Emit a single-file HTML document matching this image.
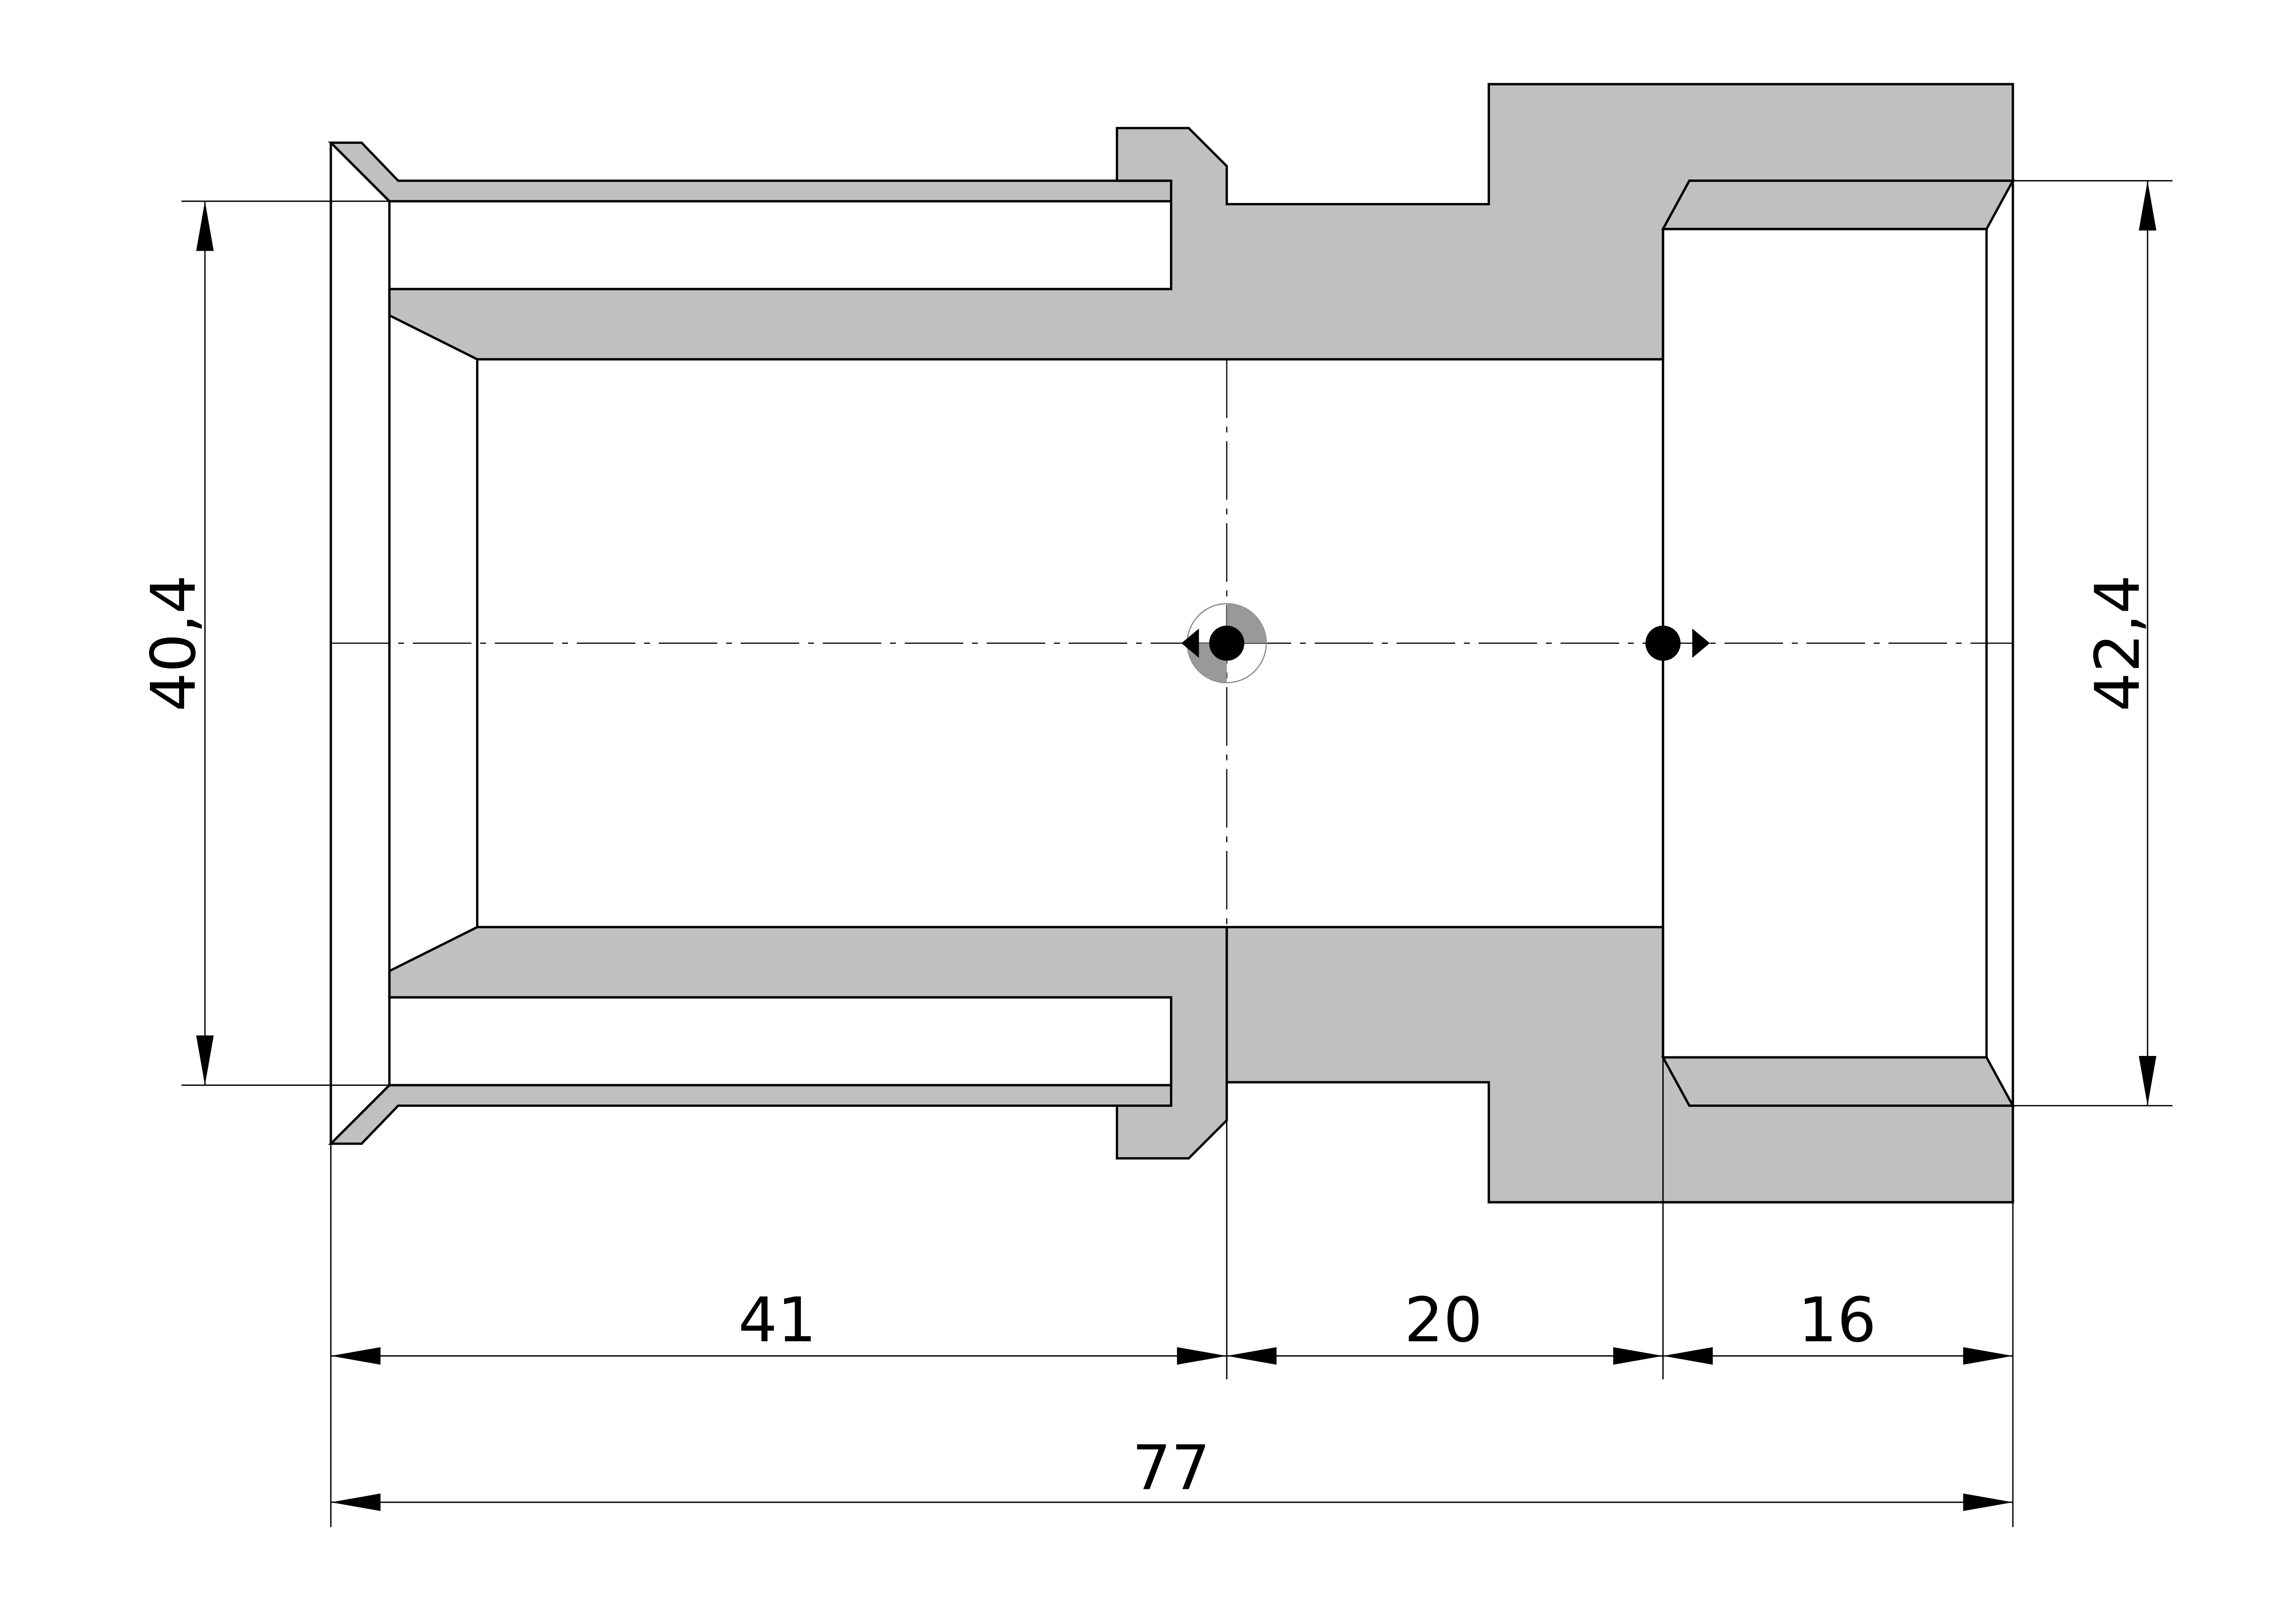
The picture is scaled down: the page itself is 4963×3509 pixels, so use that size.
<!DOCTYPE html>
<html><head><meta charset="utf-8"><style>
html,body{margin:0;padding:0;background:#fff}
svg{display:block}
text{font-family:"DejaVu Sans","Liberation Sans",sans-serif;fill:#000}
</style></head><body>
<svg width="4963" height="3509" viewBox="-1 -0.5 1568.4 1109" preserveAspectRatio="none" xmlns="http://www.w3.org/2000/svg">
<defs>
<g id="half" stroke="#000" stroke-width="1.6" stroke-linejoin="miter">
  <polygon fill="#c0c0c0" points="225,97 246,97 271,123 799,123 799,137 265,137"/>
  <polygon fill="#c0c0c0" points="762,123 762,87 811,87 837,113 837,139 1016,139 1016,57 1374,57 1374,123 1153,123 1135,156 1135,245 325,245 265,215 265,197 799,197 799,123"/>
  <polygon fill="#c0c0c0" points="1135,156 1153,123 1374,123 1356,156"/>
  <line x1="225" y1="97" x2="265" y2="137"/>
</g>
<marker id="a" viewBox="0 0 34 12" refX="34" refY="6" markerWidth="34" markerHeight="12" markerUnits="userSpaceOnUse" orient="auto-start-reverse">
  <path d="M0,0 L34,6 L0,12 z" fill="#000"/>
</marker>
</defs>
<rect x="-1" y="-1" width="1580" height="1120" fill="#fff"/>
<use href="#half"/>
<use href="#half" transform="translate(0,878) scale(1,-1)"/>
<g stroke="#000" stroke-width="1.6" fill="none">
  <line x1="225" y1="97" x2="225" y2="781"/>
  <line x1="265" y1="137" x2="265" y2="741"/>
  <line x1="325" y1="245" x2="325" y2="633"/>
  <line x1="1135" y1="156" x2="1135" y2="722"/>
  <line x1="1356" y1="156" x2="1356" y2="722"/>
  <line x1="1374" y1="123" x2="1374" y2="755"/>
  <line x1="837" y1="633" x2="837" y2="739"/>
</g>
<g stroke="#000" stroke-width="0.8" fill="none" stroke-dasharray="40,6,4,6">
  <line x1="225" y1="439" x2="1374" y2="439"/>
  <line x1="837" y1="245" x2="837" y2="633"/>
  <line x1="1135" y1="245" x2="1135" y2="633"/>
</g>
<path d="M837,412 A27,27 0 0 1 837,466 A27,27 0 0 1 837,412" fill="none" stroke="#888" stroke-width="0.8"/>
<path d="M837,412 A27,27 0 0 1 864,439 L837,439 z" fill="#999"/>
<path d="M837,466 A27,27 0 0 1 810,439 L837,439 z" fill="#999"/>
<circle cx="837" cy="439" r="12" fill="#000"/>
<path d="M806,439 L818,429 L818,449 z" fill="#000"/>
<circle cx="1135" cy="439" r="12" fill="#000"/>
<path d="M1167,439 L1155,429 L1155,449 z" fill="#000"/>
<g stroke="#000" stroke-width="0.9" fill="none">
  <line x1="123" y1="137" x2="265" y2="137"/>
  <line x1="123" y1="741" x2="265" y2="741"/>
  <line x1="139" y1="137" x2="139" y2="741" marker-start="url(#a)" marker-end="url(#a)"/>
  <line x1="1374" y1="123" x2="1483" y2="123"/>
  <line x1="1374" y1="755" x2="1483" y2="755"/>
  <line x1="1466" y1="123" x2="1466" y2="755" marker-start="url(#a)" marker-end="url(#a)"/>
  <line x1="225" y1="781" x2="225" y2="1043"/>
  <line x1="837" y1="739" x2="837" y2="942"/>
  <line x1="1135" y1="722" x2="1135" y2="942"/>
  <line x1="1374" y1="755" x2="1374" y2="1043"/>
  <line x1="225" y1="926" x2="837" y2="926" marker-start="url(#a)" marker-end="url(#a)"/>
  <line x1="837" y1="926" x2="1135" y2="926" marker-start="url(#a)" marker-end="url(#a)"/>
  <line x1="1135" y1="926" x2="1374" y2="926" marker-start="url(#a)" marker-end="url(#a)"/>
  <line x1="225" y1="1026" x2="1374" y2="1026" marker-start="url(#a)" marker-end="url(#a)"/>
</g>
<g font-size="42" text-anchor="middle">
  <text x="530" y="916">41</text>
  <text x="985" y="916">20</text>
  <text x="1254" y="916">16</text>
  <text x="799" y="1017">77</text>
  <text transform="translate(132,439) rotate(-90)">40,4</text>
  <text transform="translate(1460,439) rotate(-90)">42,4</text>
</g>
</svg>
</body></html>
